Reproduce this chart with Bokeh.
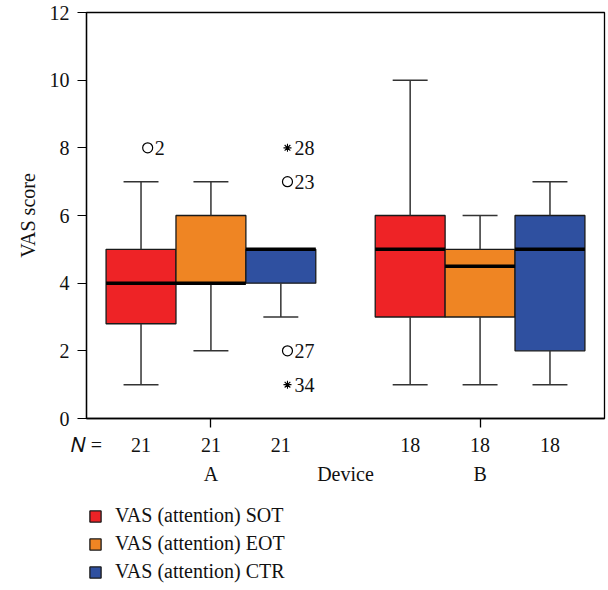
from bokeh.plotting import figure
from bokeh.layouts import column
from bokeh.models import (Range1d, FixedTicker, Legend, LegendItem, LinearAxis,
                          ColumnDataSource)
from bokeh.embed import file_html
from bokeh.resources import INLINE

# ---------------- data ----------------
groups = ["A", "B"]
series = ["VAS (attention) SOT", "VAS (attention) EOT", "VAS (attention) CTR"]
colors = ["#EE2326", "#EF8523", "#2F50A0"]
n_counts = [21, 21, 21, 18, 18, 18]
q1 = [2.8, 4, 4, 3, 3, 2]
median = [4, 4, 5, 5, 4.5, 5]
q3 = [5, 6, 5, 6, 5, 6]
whisker_lo = [1, 2, 3, 1, 1, 1]
whisker_hi = [7, 7, 5, 10, 6, 7]
circle_box = [0, 2, 2]
circle_val = [8, 7, 2]
circle_lbl = ["2", "23", "27"]
star_box = [2, 2]
star_val = [8, 1]
star_lbl = ["28", "34"]
y_ticks = [0, 2, 4, 6, 8, 10, 12]

# ---------------- layout ----------------
FONT = "Liberation Serif"
FS = "20px"
TXT = "#111111"
group_centers = [1.78, 5.63]
box_w = 1.0
cap_w = 0.5
out_dx = 0.095
x_end = 7.41
xpos = [round(group_centers[g] + (s - 1) * box_w, 3)
        for g in range(len(groups)) for s in range(len(series))]

p = figure(width=608, height=495, output_backend="svg", toolbar_location=None,
           x_range=Range1d(0, x_end), y_range=Range1d(0, 12),
           min_border_left=86, min_border_right=4, min_border_top=12, min_border_bottom=77)
p.grid.visible = False
p.outline_line_color = "black"
p.outline_line_width = 1.3
p.background_fill_color = "white"

# legend strip (separate figure below the chart, shares the box data)
lg = figure(width=608, height=95, output_backend="svg", toolbar_location=None,
            x_range=Range1d(0, x_end), y_range=Range1d(0, 12), x_axis_type=None,
            y_axis_type=None, min_border_left=86, min_border_right=4, min_border_top=0,
            min_border_bottom=0)
lg.grid.visible = False
lg.outline_line_color = None

# boxes
leg_renderers = []
for s in range(len(series)):
    idx = [g * len(series) + s for g in range(len(groups))]
    src = ColumnDataSource(dict(x=[xpos[i] for i in idx], top=[q3[i] for i in idx],
                                bottom=[q1[i] for i in idx]))
    p.vbar(x="x", top="top", bottom="bottom", width=box_w, source=src,
           fill_color=colors[s], line_color="#1a1a1a", line_width=1.3)
    # same series in the legend strip, hidden -> used only for the legend swatches
    leg_renderers.append(lg.vbar(x="x", top="top", bottom="bottom", width=box_w, source=src,
                                 fill_color=colors[s], line_color="#1a1a1a", line_width=1.3,
                                 visible=False))

# whiskers
wc = "#333333"
p.segment(x0=xpos, y0=q3, x1=xpos, y1=whisker_hi, line_color=wc, line_width=1.5)
p.segment(x0=xpos, y0=q1, x1=xpos, y1=whisker_lo, line_color=wc, line_width=1.5)
p.segment(x0=[x - cap_w / 2 for x in xpos], y0=whisker_hi, x1=[x + cap_w / 2 for x in xpos],
          y1=whisker_hi, line_color=wc, line_width=1.5)
p.segment(x0=[x - cap_w / 2 for x in xpos], y0=whisker_lo, x1=[x + cap_w / 2 for x in xpos],
          y1=whisker_lo, line_color=wc, line_width=1.5)
# medians
p.segment(x0=[x - box_w / 2 for x in xpos], y0=median, x1=[x + box_w / 2 for x in xpos],
          y1=median, line_color="black", line_width=3.5)

# outliers
cx = [xpos[i] + out_dx for i in circle_box]
p.scatter(cx, circle_val, marker="circle", size=10, fill_color="white",
          line_color="black", line_width=1.2)
p.text(cx, circle_val, text=circle_lbl, x_offset=7, text_baseline="middle",
       text_align="left", text_font={"value": FONT}, text_font_size=FS, text_color=TXT)
sx = [xpos[i] + out_dx for i in star_box]
p.scatter(sx, star_val, marker="asterisk", size=8, line_color="black", line_width=1.1)
p.text(sx, star_val, text=star_lbl, x_offset=7, text_baseline="middle",
       text_align="left", text_font={"value": FONT}, text_font_size=FS, text_color=TXT)

# y axis
p.yaxis.ticker = FixedTicker(ticks=y_ticks)
p.yaxis.minor_tick_line_color = None
p.yaxis.major_tick_out = 9
p.yaxis.major_tick_in = 0
p.yaxis.major_label_standoff = 8
p.yaxis.major_label_text_font = FONT
p.yaxis.major_label_text_font_size = FS
p.yaxis.major_label_text_color = TXT
p.yaxis.axis_label = "VAS score"
p.yaxis.axis_label_text_font = FONT
p.yaxis.axis_label_text_font_size = FS
p.yaxis.axis_label_text_font_style = "normal"
p.yaxis.axis_label_text_color = TXT
p.yaxis.axis_label_standoff = 8
p.yaxis.axis_line_color = "black"
p.yaxis.axis_line_width = 1.3

# x axis 1: group ticks (as minor ticks) + N counts as labels
xa = p.xaxis[0]
xa.ticker = FixedTicker(ticks=[0] + xpos, minor_ticks=group_centers)
xa.major_label_overrides = {**{0: "\U0001D441 ="}, **{x: str(n) for x, n in zip(xpos, n_counts)}}
xa.major_tick_line_color = None
xa.major_tick_out = 9
xa.major_tick_in = 0
xa.minor_tick_line_color = "black"
xa.minor_tick_line_width = 1.3
xa.minor_tick_out = 9
xa.minor_tick_in = 0
xa.major_label_standoff = 6
xa.major_label_text_font = FONT
xa.major_label_text_font_size = FS
xa.major_label_text_color = TXT
xa.axis_line_color = "black"
xa.axis_line_width = 1.3

# x axis 2: group names and axis title
mid = round(x_end / 2, 3)
xa2 = LinearAxis(ticker=FixedTicker(ticks=[group_centers[0], mid, group_centers[1]]),
                 major_label_overrides={group_centers[0]: groups[0], mid: "Device",
                                        group_centers[1]: groups[1]},
                 axis_line_color=None, major_tick_line_color=None, minor_tick_line_color=None,
                 major_tick_out=0, major_tick_in=0, major_label_standoff=4,
                 major_label_text_font=FONT, major_label_text_font_size=FS,
                 major_label_text_color=TXT)
p.add_layout(xa2, "below")

legend = Legend(items=[LegendItem(label=series[s], renderers=[leg_renderers[s]])
                       for s in range(len(series))],
                location=(2, 7), orientation="vertical",
                glyph_width=14, glyph_height=14, label_standoff=13,
                label_text_font=FONT, label_text_font_size=FS, label_text_color=TXT,
                label_height=20, spacing=5, padding=0, margin=0,
                border_line_color=None, background_fill_alpha=0,
                inactive_fill_alpha=0, click_policy="none")
lg.add_layout(legend)

open("out.html", "w").write(file_html(column(p, lg, spacing=0), INLINE))
